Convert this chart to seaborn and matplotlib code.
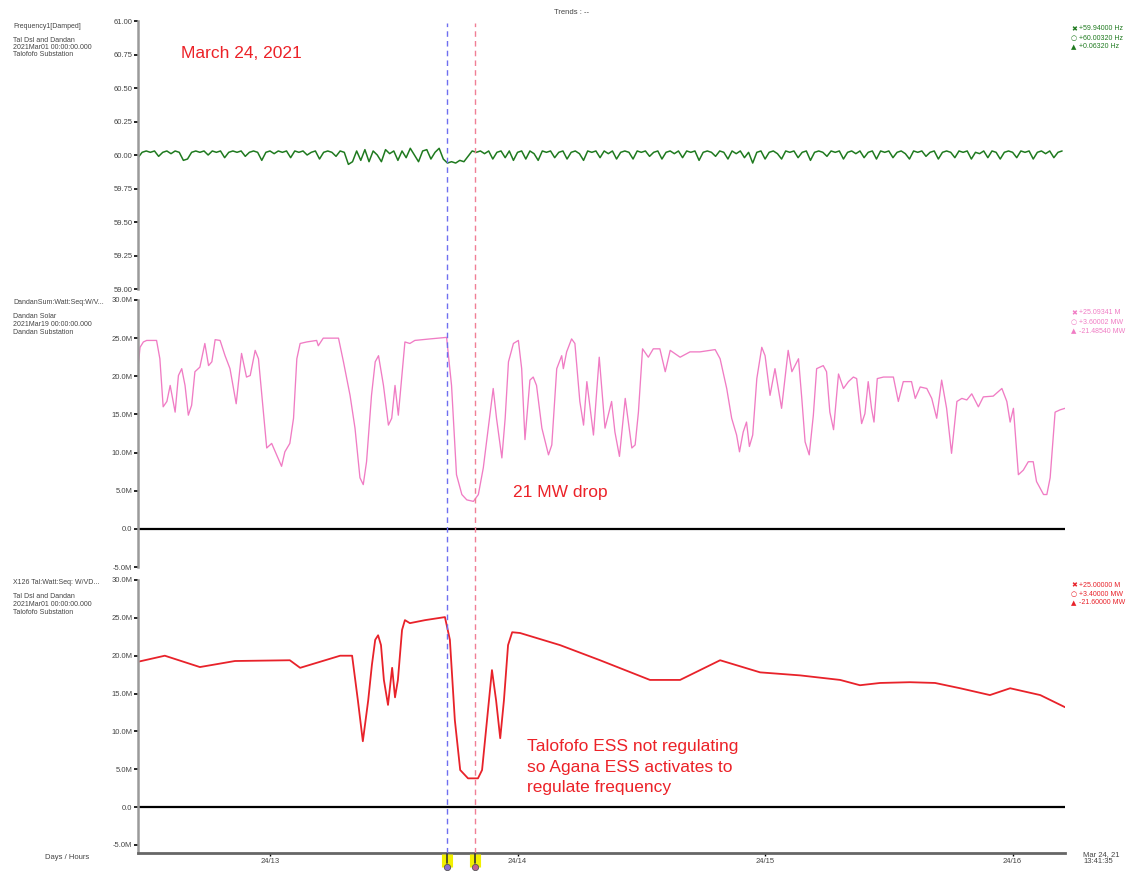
import numpy as np
import pandas as pd
import matplotlib
matplotlib.use("Agg")
import matplotlib.pyplot as plt
import seaborn as sns
from matplotlib.transforms import blended_transform_factory

# ---------------- data (minutes after 24/13:00) ----------------
freq_min = list(range(-32, 193))
freq_hz = [
    59.98, 60.02, 60.03, 60.02, 60.03, 59.99, 60.02, 60.03, 60.01, 60.03, 60.02, 59.96, 59.97, 60.02, 60.03,
    60.02, 60.03, 60.00, 60.03, 60.02, 60.03, 59.98, 60.02, 60.03, 60.02, 60.03, 59.99, 60.02, 60.03, 60.02,
    59.96, 60.02, 60.03, 60.01, 60.03, 60.02, 60.03, 59.98, 60.03, 60.02, 60.03, 60.00, 60.02, 60.03, 59.97,
    60.02, 60.03, 60.02, 59.99, 60.03, 60.02, 59.93, 59.95, 60.03, 59.96, 60.04, 59.95, 60.03, 60.00, 59.95,
    60.04, 60.01, 60.03, 59.96, 60.03, 59.98, 60.05, 60.00, 59.95, 60.03, 60.04, 59.97, 60.02, 60.05, 59.97,
    59.94, 59.95, 59.94, 59.96, 59.95, 59.99, 60.03, 60.02, 60.03, 60.01, 60.03, 59.97, 60.02, 60.03, 59.98,
    60.03, 59.96, 60.02, 60.03, 59.97, 60.03, 60.01, 59.96, 60.03, 60.02, 60.03, 59.98, 60.02, 60.03, 59.97,
    60.02, 60.03, 60.01, 59.96, 60.03, 60.02, 60.03, 59.98, 60.03, 60.01, 60.03, 59.97, 60.02, 60.03, 60.02,
    59.97, 60.03, 60.02, 60.03, 59.99, 60.02, 60.03, 59.97, 60.02, 60.03, 60.01, 60.03, 59.98, 60.03, 60.02,
    60.03, 59.96, 60.02, 60.03, 60.02, 59.99, 60.03, 60.02, 59.97, 60.03, 60.01, 60.03, 59.98, 60.02, 59.94,
    60.02, 60.03, 59.97, 60.02, 60.03, 60.01, 59.97, 60.03, 60.02, 60.03, 59.98, 60.02, 60.03, 59.96, 60.02,
    60.03, 60.02, 59.99, 60.03, 60.02, 60.03, 59.97, 60.02, 60.03, 60.01, 60.03, 59.98, 60.02, 60.03, 59.97,
    60.03, 60.02, 60.03, 59.98, 60.02, 60.03, 60.01, 59.97, 60.03, 60.02, 60.03, 59.99, 60.02, 60.03, 59.97,
    60.02, 60.03, 60.02, 59.98, 60.03, 60.02, 60.03, 59.97, 60.02, 60.01, 60.03, 59.98, 60.03, 60.02, 59.97,
    60.02, 60.03, 60.02, 59.98, 60.03, 60.02, 60.03, 59.97, 60.02, 60.03, 60.01, 60.03, 59.98, 60.02, 60.03,
]

solar_min = [
    -32.2, -31.5, -30.7, -29.9, -27.5, -26.7, -25.9, -25.0, -24.2, -23.0,
    -22.2, -21.4, -20.6, -19.8, -19.0, -18.2, -17.0, -15.8, -14.9, -14.1,
    -13.3, -12.1, -10.9, -9.7, -8.2, -6.9, -5.7, -4.8, -3.6, -2.8,
    -1.6, -0.8, 0.4, 1.6, 2.8, 3.6, 4.8, 5.7, 6.5, 7.3,
    8.9, 11.3, 11.7, 12.9, 16.6, 17.8, 19.4, 20.6, 21.8, 22.6,
    23.4, 24.6, 25.5, 26.3, 27.5, 28.7, 29.5, 30.3, 31.1, 31.9,
    32.7, 33.9, 35.1, 38.8, 42.8, 44.0, 45.2, 46.5, 47.7, 49.3,
    50.5, 51.7, 52.9, 54.1, 54.9, 56.2, 57.0, 57.8, 59.0, 60.2,
    61.0, 61.8, 63.0, 63.8, 64.6, 65.9, 67.5, 68.3, 69.5, 70.7,
    71.1, 71.9, 73.1, 73.9, 75.1, 76.0, 76.8,
    78.4, 79.8, 81.2, 82.8, 83.6, 84.7, 86.1, 87.7, 88.5, 89.3,
    90.3, 91.7, 92.9, 94.5, 95.8, 97.0, 99.4, 101.8, 104.2, 107.9,
    109.1, 110.7, 111.9, 113.1, 113.8, 114.7, 115.5, 116.2, 117.0, 118.0,
    119.2, 120.0, 121.2, 122.4, 124.0, 125.6, 126.5, 128.1, 128.9, 129.7,
    130.7, 131.7, 132.5, 134.1, 134.9, 135.7, 136.6, 137.8, 139.0, 140.2,
    141.4, 142.2, 143.4, 144.2, 145.0, 145.8, 146.4, 147.2, 148.7, 151.1,
    152.3, 153.5, 155.5, 156.4, 157.6, 159.2, 160.4, 161.6, 162.8, 164.0,
    165.2, 166.5, 167.7, 168.9, 170.1, 171.7, 172.9, 175.3, 177.4, 178.6,
    179.4, 180.2, 181.4, 182.6, 183.8, 185.0, 185.8, 187.5, 188.3, 189.1,
    190.3, 191.5, 192.7,
]
solar_mw = [
    20.1, 23.8, 24.5, 24.7, 24.7, 22.3, 16.0, 16.7, 18.8, 15.3,
    20.1, 21.0, 18.8, 14.9, 16.2, 20.6, 21.2, 24.3, 21.4, 21.9,
    24.8, 24.7, 22.7, 21.0, 16.4, 23.0, 19.9, 20.1, 23.4, 22.3,
    15.3, 10.6, 11.2, 9.7, 8.2, 10.1, 11.2, 14.5, 22.3, 24.3,
    24.5, 24.7, 24.0, 25.0, 25.0, 21.9, 17.5, 13.2, 6.7, 5.8,
    8.8, 17.5, 21.9, 22.7, 18.8, 13.6, 14.5, 18.8, 14.9, 19.7,
    24.5, 24.3, 24.7, 24.9, 25.1, 18.8, 7.1, 4.5, 3.8, 3.6,
    4.5, 8.0, 13.2, 18.4, 14.5, 9.3, 14.5, 21.9, 24.3, 24.7,
    21.0, 11.7, 19.5, 19.9, 18.8, 13.2, 9.7, 11.0, 21.0, 22.7,
    21.0, 23.2, 24.9, 24.3, 16.7, 13.6, 19.3,
    12.3, 22.5, 13.2, 16.7, 12.7, 9.5, 17.1, 10.6, 11.0, 15.3,
    23.6, 22.5, 23.6, 23.6, 20.6, 23.4, 22.5, 23.2, 23.2, 23.5,
    22.3, 18.4, 14.5, 12.3, 10.1, 12.7, 14.0, 10.8, 12.3, 19.7,
    23.8, 22.7, 17.5, 21.0, 15.8, 23.4, 20.6, 22.3, 17.1, 11.4,
    9.7, 14.9, 21.0, 21.4, 20.6, 15.3, 13.0, 20.3, 18.4, 19.3,
    19.9, 19.7, 13.8, 15.1, 19.3, 15.8, 14.0, 19.7, 19.9, 19.9,
    16.7, 19.3, 19.3, 17.1, 18.6, 18.4, 17.1, 14.5, 19.5, 15.8,
    9.9, 16.7, 17.1, 16.9, 17.7, 16.0, 17.3, 17.4, 18.4, 16.7,
    14.0, 15.8, 7.1, 7.7, 8.8, 8.8, 6.2, 4.5, 4.5, 6.7,
    15.3, 15.6, 15.8,
]

tal_min = [
    -32.0, -25.5, -17.0, -8.5, 4.8, 7.3, 17.0, 19.9, 21.3, 22.5,
    23.8, 24.7, 25.5, 26.2, 26.9, 27.6, 28.6, 29.6, 30.3, 31.0,
    32.0, 32.7, 33.9, 37.6, 42.4, 43.6, 44.8, 46.1, 48.0, 50.4,
    51.4, 52.6, 53.8, 54.8, 55.8, 56.7, 57.7, 58.7, 60.6, 70.3,
    80.0, 92.1, 99.4, 109.1, 118.8, 128.5, 138.2, 143.0, 147.9, 155.1,
    161.2, 167.3, 174.5, 179.4, 186.7, 192.7,
]
tal_mw = [
    19.2, 20.0, 18.5, 19.3, 19.4, 18.4, 20.0, 20.0, 14.1, 8.7,
    14.1, 18.8, 22.1, 22.7, 21.4, 16.8, 13.5, 18.4, 14.5, 16.8,
    23.4, 24.7, 24.3, 24.7, 25.1, 22.1, 11.5, 4.9, 3.8, 3.8,
    4.9, 11.5, 18.1, 14.1, 9.1, 14.1, 21.4, 23.1, 23.0, 21.4,
    19.4, 16.8, 16.8, 19.4, 17.8, 17.4, 16.8, 16.1, 16.4, 16.5,
    16.4, 15.7, 14.8, 15.7, 14.8, 13.2,
]

hour_ticks = [0, 60, 120, 180]
hour_labels = ["24/13", "24/14", "24/15", "24/16"]
cursor_blue = 42.9
cursor_red = 49.7

freq_ticks = [59.00, 59.25, 59.50, 59.75, 60.00, 60.25, 60.50, 60.75, 61.00]
mw_ticks = [-5, 0, 5, 10, 15, 20, 25, 30]
mw_labels = ["-5.0M", "0.0", "5.0M", "10.0M", "15.0M", "20.0M", "25.0M", "30.0M"]

freq_info = ["Frequency1[Damped]", "", "Tal Dsl and Dandan", "2021Mar01 00:00:00.000", "Talofofo Substation"]
solar_info = ["DandanSum:Watt:Seq:W/V...", "", "Dandan Solar", "2021Mar19 00:00:00.000", "Dandan Substation"]
tal_info = ["X126 Tal:Watt:Seq: W/VD...", "", "Tal Dsl and Dandan", "2021Mar01 00:00:00.000", "Talofofo Substation"]

freq_cursor = ["+59.94000 Hz", "+60.00320 Hz", "+0.06320 Hz"]
solar_cursor = ["+25.09341 M", "+3.60002 MW", "-21.48540 MW"]
tal_cursor = ["+25.00000 M", "+3.40000 MW", "-21.60000 MW"]

# ---------------- style ----------------
sns.set_theme(style="white")
plt.rcParams['font.family'] = ['Liberation Sans', 'DejaVu Sans']

W, H = 1129, 871
fig = plt.figure(figsize=(W / 100, H / 100), dpi=100)
fig.patch.set_facecolor("white")

X0, X1 = 138, 1065
XMIN, XMAX = -32.0, 192.7


def rect(ytop, ybot, x0=X0, x1=X1):
    return [x0 / W, 1 - ybot / H, (x1 - x0) / W, (ybot - ytop) / H]


GREEN = "#1f7a1f"
PINK = "#f07cc4"
RED = "#e8222a"
SPINE = "#9a9a9a"
TXT = "#444444"

ax_f = fig.add_axes(rect(21, 289))
ax_s = fig.add_axes(rect(300, 567))
ax_t = fig.add_axes(rect(580, 853))

df_f = pd.DataFrame({"t": freq_min, "v": freq_hz})
df_s = pd.DataFrame({"t": solar_min, "v": solar_mw})
df_t = pd.DataFrame({"t": tal_min, "v": tal_mw})

sns.lineplot(data=df_f, x="t", y="v", ax=ax_f, color=GREEN, lw=1.1)
sns.lineplot(data=df_s, x="t", y="v", ax=ax_s, color=PINK, lw=0.95)
sns.lineplot(data=df_t, x="t", y="v", ax=ax_t, color=RED, lw=1.3)

ax_f.set_ylim(59.0, 61.0)
ax_f.set_yticks(freq_ticks)
ax_f.set_yticklabels([f"{v:.2f}" for v in freq_ticks])
ax_s.set_ylim(-5, 30)
ax_t.set_ylim(-6.06, 30)
for ax in (ax_s, ax_t):
    ax.set_yticks(mw_ticks)
    ax.set_yticklabels(mw_labels)
    ax.axhline(0, color="black", lw=1.6, zorder=1)

for ax in (ax_f, ax_s, ax_t):
    ax.set_xlim(XMIN, XMAX)
    ax.set_facecolor("none")
    ax.set_xlabel("")
    ax.set_ylabel("")
    for s in ("top", "right", "bottom"):
        ax.spines[s].set_visible(False)
    ax.spines["left"].set_color(SPINE)
    ax.spines["left"].set_linewidth(1.8)
    ax.tick_params(axis="y", which="both", left=True, length=3, width=1.2,
                   color="black", labelsize=5.5, labelcolor=TXT, pad=1)
    ax.tick_params(axis="x", bottom=False, labelbottom=False)
    ax.grid(False)

ax_t.spines["bottom"].set_visible(True)
ax_t.spines["bottom"].set_color("#666666")
ax_t.spines["bottom"].set_linewidth(2.0)
ax_t.set_xticks(hour_ticks)
ax_t.set_xticklabels(hour_labels)
ax_t.tick_params(axis="x", bottom=True, labelbottom=True, length=2, width=1,
                 color="black", labelsize=5.5, labelcolor=TXT, pad=1.5)

# ---------------- cursor overlay ----------------
ov = fig.add_axes(rect(23, 853), zorder=5)
ov.set_xlim(XMIN, XMAX)
ov.set_ylim(0, 1)
ov.axis("off")
ov.patch.set_alpha(0)
ov.axvline(cursor_blue, color="#6f6ff0", lw=1.0, ls=(0, (4, 3)))
ov.axvline(cursor_red, color="#f07f95", lw=1.0, ls=(0, (4, 3)))
tr = blended_transform_factory(ov.transData, ov.transAxes)
for c, dot in ((cursor_blue, "#8a6fd0"), (cursor_red, "#c06090")):
    ov.plot([c, c], [-0.001, -0.017], transform=tr, color="#f2f000", lw=8,
            solid_capstyle="butt", clip_on=False)
    ov.plot([c, c], [-0.001, -0.012], transform=tr, color="#333333", lw=1.2,
            clip_on=False)
    ov.plot([c], [-0.017], transform=tr, marker="o", ms=4.5, mfc=dot,
            mec="#555555", mew=0.6, clip_on=False)

# ---------------- texts ----------------
def info_block(lines, ytop):
    y = ytop
    for ln in lines:
        if ln:
            fig.text(13 / W, 1 - y / H, ln, fontsize=5, color=TXT, va="center", ha="left")
        y += 7.5 if ln else 6.5


info_block(freq_info, 26)
info_block(solar_info, 303)
info_block(tal_info, 583)


def cursor_block(vals, ytop, color, dy):
    syms = ["✖", "○", "▲"]
    for i, (s, v) in enumerate(zip(syms, vals)):
        y = 1 - (ytop + i * dy) / H
        fig.text(1071 / W, y, s, fontsize=5, color=color, va="center", ha="left",
                 family="DejaVu Sans", fontweight="bold")
        fig.text(1079 / W, y, v, fontsize=5, color=color, va="center", ha="left")


cursor_block(freq_cursor, 29, GREEN, 9)
cursor_block(solar_cursor, 313, PINK, 9)
cursor_block(tal_cursor, 585, RED, 9)

fig.text(572 / W, 1 - 12 / H, "Trends : --", fontsize=5.5, color=TXT, ha="center", va="center")
fig.text(45 / W, 1 - 857 / H, "Days / Hours", fontsize=5.5, color=TXT, ha="left", va="center")
fig.text(1083 / W, 1 - 858 / H, "Mar 24, 21\n13:41:35", fontsize=5.5, color=TXT,
         ha="left", va="center", linespacing=1.1)

ANN = "#ec2228"
fig.text(181 / W, 1 - 54 / H, "March 24, 2021", fontsize=12.5, color=ANN, ha="left", va="center")
fig.text(513 / W, 1 - 492 / H, "21 MW drop", fontsize=12.5, color=ANN, ha="left", va="center")
fig.text(527 / W, 1 - 767 / H,
         "Talofofo ESS not regulating\nso Agana ESS activates to\nregulate frequency",
         fontsize=12.5, color=ANN, ha="left", va="center", linespacing=1.45)

fig.savefig("out.png", dpi=100, facecolor="white")
